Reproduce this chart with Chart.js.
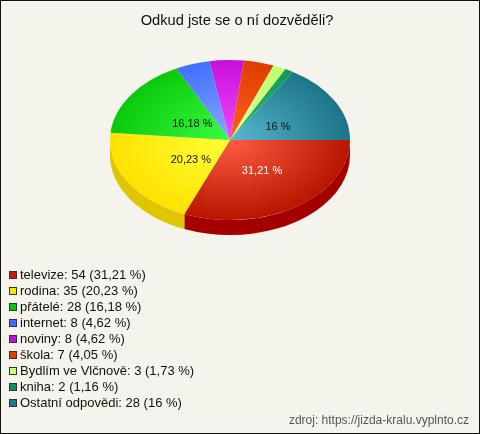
<!DOCTYPE html>
<html lang="cs">
<head>
    <meta charset="UTF-8">
    <title>Odkud jste se o ní dozvěděli?</title>
    <script src="https://cdn.jsdelivr.net/npm/chart.js"></script>
    <style>
        body {
            margin: 0;
            background: #f4f3ec;
            font-family: Arial, "Liberation Sans", sans-serif;
        }
        .wrap {
            position: relative;
            width: 480px;
            height: 434px;
            background: #f4f3ec;
        }
        .frame {
            position: absolute;
            left: 0; top: 0;
            width: 480px; height: 434px;
            box-sizing: border-box;
            border: 1px solid #111;
            pointer-events: none;
        }
        #legend {
            position: absolute;
            left: 9px;
            top: 267px;
            font-size: 13px;
            color: #111;
        }
        #legend .row {
            height: 16px;
            line-height: 16px;
            white-space: nowrap;
        }
        #legend .box {
            display: inline-block;
            width: 6px;
            height: 6px;
            border: 1px solid #333;
            margin-right: 3px;
        }
        .source {
            position: absolute;
            right: 11px;
            top: 413px;
            font-size: 12px;
            color: #555;
        }
    </style>
</head>
<body>
    <div class="wrap">
        <canvas id="chart" width="480" height="434"></canvas>
        <div id="legend"></div>
        <div class="source">zdroj: https://jizda-kralu.vyplnto.cz</div>
        <div class="frame"></div>
    </div>

    <script>
        // Data
        const labels = ['televize', 'rodina', 'přátelé', 'internet', 'noviny', 'škola', 'Bydlím ve Vlčnově', 'kniha', 'Ostatní odpovědi'];
        const counts = [54, 35, 28, 8, 8, 7, 3, 2, 28];
        const percentLabels = ['31,21 %', '20,23 %', '16,18 %', '4,62 %', '4,62 %', '4,05 %', '1,73 %', '1,16 %', '16 %'];

        // Barvy
        const innerColors = ['#ff5c42', '#ffff38', '#38ff40', '#88a8ff', '#f048ff', '#ff6020', '#d8ff90', '#30b878', '#58b8d0'];
        const outerColors = ['#b81500', '#ffe200', '#0cc80c', '#4070ff', '#c810d8', '#e03c00', '#c0ff70', '#109858', '#1c7488'];
        const sideColors = ['#a50000', '#e0c600', '#0a9a0a', '#3050c0', '#9a0aa8', '#b03000', '#9acc58', '#0a7040', '#145868'];
        const legendColors = ['#c41e00', '#ffe800', '#10c010', '#4070ff', '#c010d0', '#e04000', '#c8ff80', '#109060', '#1e7890'];

        const total = counts.reduce((a, b) => a + b, 0);

        // Elipsa (pseudo 3D)
        const CX = 230, CY = 140, RX = 120, RY = 80, DEPTH = 15;

        function setEllipse(ctx, arc) {
            const r = arc.outerRadius;
            ctx.translate(CX, CY);
            ctx.scale(RX / r, RY / r);
            ctx.translate(-arc.x, -arc.y);
        }

        const pie3d = {
            id: 'pie3d',
            beforeDatasetsDraw(chart) {
                const ctx = chart.ctx;
                const arcs = chart.getDatasetMeta(0).data;
                ctx.save();
                setEllipse(ctx, arcs[0]);
                // bocni strana - jen predni polovina (0..PI)
                arcs.forEach((arc, i) => {
                    const s = Math.max(arc.startAngle, 0);
                    const e = Math.min(arc.endAngle, Math.PI);
                    if (s >= e) return;
                    const D = DEPTH * arc.outerRadius / RY;
                    ctx.beginPath();
                    ctx.arc(arc.x, arc.y, arc.outerRadius, s, e);
                    ctx.arc(arc.x, arc.y + D, arc.outerRadius, e, s, true);
                    ctx.closePath();
                    ctx.fillStyle = sideColors[i];
                    ctx.fill();
                });
            },
            afterDatasetsDraw(chart) {
                const ctx = chart.ctx;
                ctx.restore();
                const arcs = chart.getDatasetMeta(0).data;
                ctx.save();
                ctx.font = '11px Arial, "Liberation Sans", sans-serif';
                ctx.textAlign = 'center';
                ctx.textBaseline = 'middle';
                arcs.forEach((arc, i) => {
                    if (counts[i] / total < 0.1) return;
                    const mid = (arc.startAngle + arc.endAngle) / 2;
                    const px = CX + 4 + Math.cos(mid) * RX * 0.42;
                    const py = CY + 3 + Math.sin(mid) * RY * 0.42;
                    ctx.fillStyle = i === 0 ? '#ffffff' : '#111111';
                    ctx.fillText(percentLabels[i], px, py);
                });
                ctx.restore();
            }
        };

        function sliceGradient(context) {
            const chart = context.chart;
            const area = chart.chartArea;
            const i = context.dataIndex;
            if (!area) return outerColors[i];
            const x = (area.left + area.right) / 2;
            const y = (area.top + area.bottom) / 2;
            const r = Math.min(area.right - area.left, area.bottom - area.top) / 2;
            const g = chart.ctx.createRadialGradient(x, y, 0, x, y, r);
            g.addColorStop(0, innerColors[i]);
            g.addColorStop(1, outerColors[i]);
            return g;
        }

        new Chart(document.getElementById('chart'), {
            type: 'pie',
            data: {
                labels: labels,
                datasets: [{
                    data: counts,
                    backgroundColor: sliceGradient,
                    borderWidth: 0,
                    clip: false
                }]
            },
            options: {
                responsive: false,
                animation: false,
                events: [],
                rotation: 90,
                layout: { padding: { left: 0, right: 6, top: 0, bottom: 120 } },
                plugins: {
                    legend: { display: false },
                    tooltip: { enabled: false },
                    title: {
                        display: true,
                        text: 'Odkud jste se o ní dozvěděli?',
                        color: '#111',
                        font: { family: 'Arial, "Liberation Sans", sans-serif', size: 14.7, weight: 'normal' },
                        padding: { top: 12, bottom: 10 }
                    }
                }
            },
            plugins: [pie3d]
        });

        // Legenda
        const legend = document.getElementById('legend');
        labels.forEach((name, i) => {
            const row = document.createElement('div');
            row.className = 'row';
            const box = document.createElement('span');
            box.className = 'box';
            box.style.background = legendColors[i];
            row.appendChild(box);
            row.appendChild(document.createTextNode(name + ': ' + counts[i] + ' (' + percentLabels[i] + ')'));
            legend.appendChild(row);
        });
    </script>
</body>
</html>
